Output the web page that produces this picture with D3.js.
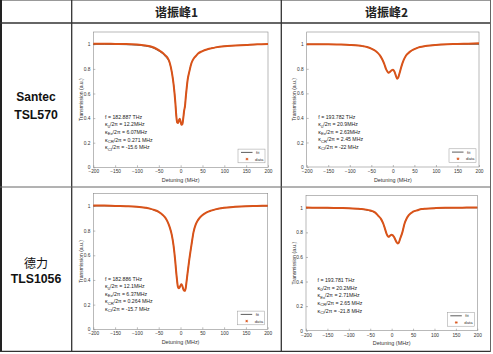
<!DOCTYPE html>
<html lang="en">
<head>
<meta charset="UTF-8"/>
<title>谐振峰 transmission</title>
<script src="https://d3js.org/d3.v7.min.js"></script>
<style>
  body { margin: 0; background: #fff; }
  svg { display: block; font-family: "Liberation Sans", Arial, Helvetica, sans-serif; }
</style>
</head>
<body>
<script>
// table text
var colHeads = ["谐振峰1", "谐振峰2"];
var rowHeads = [["Santec", "TSL570"], ["德力", "TLS1056"]];

// axis ticks
var xTicks = [-200, -150, -100, -50, 0, 50, 100, 150, 200];
var yTicks = [0, 0.2, 0.4, 0.6, 0.8, 1];

// detuning grid (MHz) for the read-off values
var detuning = [-200,-175,-150,-125,-100,-80,-70,-60,-50,-40,-35,-30,-25,-20,-16,-12,-10,-8,-6,-4,-2,0,
                2,4,6,8,10,12,14,16,20,25,30,35,40,50,60,70,80,100,125,150,175,200];

var data1 = [1.005,1.005,1.003,1.002,0.998,0.99,0.984,0.972,0.952,0.928,0.91,0.89,0.85,0.77,0.67,0.52,0.42,0.365,0.36,0.38,0.395,0.37,
             0.345,0.35,0.40,0.46,0.50,0.58,0.65,0.71,0.78,0.85,0.885,0.905,0.925,0.945,0.958,0.967,0.975,0.985,0.99,0.995,1.0,1.003];
var data2 = [1.0,1.0,1.0,0.998,0.995,0.99,0.985,0.978,0.965,0.945,0.93,0.91,0.88,0.84,0.80,0.775,0.768,0.77,0.778,0.785,0.79,0.792,
             0.788,0.775,0.755,0.735,0.72,0.725,0.745,0.77,0.82,0.87,0.905,0.925,0.94,0.96,0.975,0.982,0.988,0.995,1.0,1.002,1.005,1.008];
var data3 = [1.003,1.003,1.0,0.998,0.994,0.985,0.978,0.967,0.952,0.925,0.905,0.875,0.83,0.765,0.68,0.55,0.47,0.40,0.345,0.333,0.34,0.355,
             0.365,0.355,0.33,0.315,0.312,0.335,0.39,0.45,0.56,0.68,0.79,0.85,0.885,0.925,0.948,0.962,0.972,0.985,0.993,0.998,1.0,1.002];
var data4 = [1.003,1.0,1.0,0.998,0.997,0.993,0.99,0.985,0.978,0.965,0.95,0.93,0.91,0.875,0.835,0.79,0.775,0.765,0.765,0.772,0.778,0.78,
             0.778,0.77,0.76,0.745,0.73,0.718,0.71,0.712,0.75,0.80,0.87,0.913,0.94,0.968,0.98,0.99,0.993,0.997,1.0,1.0,1.002,1.003];

// fitted curves
var fit1 = [1.0,1.0,0.999,0.997,0.993,0.985,0.978,0.965,0.945,0.92,0.90,0.88,0.845,0.77,0.67,0.52,0.42,0.365,0.36,0.38,0.395,0.37,
            0.345,0.35,0.40,0.46,0.50,0.58,0.65,0.71,0.78,0.85,0.885,0.905,0.925,0.945,0.958,0.967,0.975,0.985,0.99,0.995,0.998,1.0];
var fit2 = [1.0,1.0,0.999,0.998,0.995,0.99,0.985,0.978,0.965,0.945,0.93,0.91,0.88,0.84,0.80,0.775,0.768,0.77,0.778,0.785,0.79,0.792,
            0.788,0.775,0.755,0.735,0.72,0.725,0.745,0.77,0.82,0.87,0.905,0.925,0.94,0.96,0.975,0.982,0.988,0.995,0.998,1.0,1.0,1.0];
var fit3 = [1.0,1.0,0.999,0.997,0.993,0.984,0.977,0.965,0.95,0.923,0.903,0.873,0.83,0.765,0.68,0.55,0.47,0.40,0.345,0.333,0.34,0.355,
            0.365,0.355,0.33,0.315,0.312,0.335,0.39,0.45,0.56,0.68,0.79,0.85,0.885,0.925,0.948,0.962,0.972,0.985,0.993,0.997,0.999,1.0];
var fit4 = [1.0,1.0,0.999,0.998,0.996,0.992,0.988,0.983,0.975,0.962,0.948,0.928,0.908,0.873,0.833,0.79,0.775,0.765,0.765,0.772,0.778,0.78,
            0.778,0.77,0.76,0.745,0.73,0.718,0.71,0.712,0.75,0.80,0.87,0.913,0.94,0.968,0.98,0.99,0.993,0.997,0.999,1.0,1.0,1.0];

// fit parameters shown in each panel: [f, κ0, κEx, κCR, κCI]
var params1 = ["182.887 THz", "12.2MHz", "6.07MHz", "0.271 MHz", "-15.6 MHz"];
var params2 = ["193.782 THz", "20.9MHz", "2.63MHz", "2.45 MHz", "-22 MHz"];
var params3 = ["182.886 THz", "12.1MHz", "6.37MHz", "0.264 MHz", "-15.7 MHz"];
var params4 = ["193.781 THz", "20.2MHz", "2.71MHz", "2.65 MHz", "-21.8 MHz"];

var W = 493, H = 354;
var orange = "#d95319";

var svg = d3.select("body").append("svg")
    .attr("width", W).attr("height", H);

svg.append("rect").attr("width", W).attr("height", H).attr("fill", "#fff");

// panel boxes (axes area in pixels)
var panels = [
  {l: 93.3, r: 268,   t: 32,    b: 167.3, data: data1, fit: fit1, p: params1},
  {l: 306.7, r: 479,  t: 32,    b: 167,   data: data2, fit: fit2, p: params2},
  {l: 93.3, r: 267.7, t: 193.6, b: 329.3, data: data3, fit: fit3, p: params3},
  {l: 306,  r: 477.3, t: 195.5, b: 330.7, data: data4, fit: fit4, p: params4}
];

panels.forEach(drawPanel);

function drawPanel(P) {
  var x = d3.scaleLinear().domain([-200, 200]).range([P.l, P.r]);
  var y = d3.scaleLinear().domain([0, 1.1]).range([P.b, P.t]);
  var g = svg.append("g");

  // axes with inward ticks
  var xAxis = d3.axisBottom(x).tickValues(xTicks).tickSizeInner(-2).tickSizeOuter(0).tickPadding(2.5);
  var yAxis = d3.axisLeft(y).tickValues(yTicks).tickSizeInner(-2).tickSizeOuter(0).tickPadding(3)
      .tickFormat(function(d){ return d === 1 || d === 0 ? d : d.toFixed(1); });

  var gx = g.append("g").attr("transform", "translate(0," + P.b + ")").call(xAxis);
  var gy = g.append("g").attr("transform", "translate(" + P.l + ",0)").call(yAxis);
  [gx, gy].forEach(function(a){
    a.selectAll("path").remove();
    a.selectAll("line").attr("stroke", "#777").attr("stroke-width", 0.5);
    a.selectAll("text").attr("font-size", 4.8).attr("fill", "#333").attr("font-family", null);
  });

  // box
  g.append("rect")
    .attr("x", P.l).attr("y", P.t)
    .attr("width", P.r - P.l).attr("height", P.b - P.t)
    .attr("fill", "none").attr("stroke", "#8a8a8a").attr("stroke-width", 0.6);

  // axis labels
  g.append("text")
    .attr("x", (P.l + P.r) / 2).attr("y", P.b + 14.5)
    .attr("text-anchor", "middle").attr("font-size", 5.4).attr("fill", "#333")
    .text("Detuning (MHz)");
  g.append("text")
    .attr("transform", "translate(" + (P.l - 10.5) + "," + ((P.t + P.b) / 2) + ") rotate(-90)")
    .attr("text-anchor", "middle").attr("font-size", 5.0).attr("fill", "#333")
    .text("Transmission (a.u.)");

  var line = d3.line()
    .x(function(d, i){ return x(detuning[i]); })
    .y(function(d){ return y(d); })
    .curve(d3.curveMonotoneX);

  g.append("path").datum(P.fit).attr("d", line)
    .attr("fill", "none").attr("stroke", "#333").attr("stroke-width", 0.8);
  g.append("path").datum(P.data).attr("d", line)
    .attr("fill", "none").attr("stroke", orange).attr("stroke-width", 2);

  // parameter text
  var tx = x(-173), ty0 = y(0.395);
  var lh = 7.6;
  var subs = ["0", "Ex", "CR", "CI"];
  var t = g.append("g").attr("font-size", 5.2).attr("fill", "#222");
  t.append("text").attr("x", tx).attr("y", ty0).text("f = " + P.p[0]);
  subs.forEach(function(s, i){
    var tt = t.append("text").attr("x", tx).attr("y", ty0 + lh * (i + 1));
    tt.append("tspan").text("κ");
    tt.append("tspan").attr("dy", 1.4).attr("font-size", 4.2).text(s);
    tt.append("tspan").attr("dy", -1.4).text("/2π = " + P.p[i + 1]);
  });

  // legend
  var lw = 27, lhgt = 13.7;
  var lx = P.r - 3 - lw, ly = P.b - 4.5 - lhgt;
  var leg = g.append("g");
  leg.append("rect").attr("x", lx).attr("y", ly).attr("width", lw).attr("height", lhgt)
    .attr("fill", "#fff").attr("stroke", "#999").attr("stroke-width", 0.5);
  leg.append("line").attr("x1", lx + 3).attr("x2", lx + 14.5)
    .attr("y1", ly + 3.3).attr("y2", ly + 3.3).attr("stroke", "#333").attr("stroke-width", 0.8);
  leg.append("text").attr("x", lx + 18).attr("y", ly + 4.9).attr("font-size", 4.3).attr("fill", "#333").text("fit");
  var mx = lx + 9, my = ly + 10;
  [0, 60, 120].forEach(function(a){
    var r = a * Math.PI / 180;
    leg.append("line")
      .attr("x1", mx - 1.4 * Math.cos(r)).attr("y1", my - 1.4 * Math.sin(r))
      .attr("x2", mx + 1.4 * Math.cos(r)).attr("y2", my + 1.4 * Math.sin(r))
      .attr("stroke", orange).attr("stroke-width", 0.8);
  });
  leg.append("text").attr("x", lx + 17).attr("y", ly + 11.4).attr("font-size", 4.3).attr("fill", "#333").text("data");
}

// table grid
var grid = svg.append("g").attr("fill", "none");
grid.append("line").attr("x1", 0).attr("x2", 491).attr("y1", 0.5).attr("y2", 0.5).attr("stroke", "#999").attr("stroke-width", 1);
grid.append("line").attr("x1", 1).attr("x2", 1).attr("y1", 0).attr("y2", 352).attr("stroke", "#222").attr("stroke-width", 2);
grid.append("line").attr("x1", 0).attr("x2", 491).attr("y1", 23).attr("y2", 23).attr("stroke", "#333").attr("stroke-width", 1.4);
grid.append("line").attr("x1", 71.7).attr("x2", 71.7).attr("y1", 0).attr("y2", 352).attr("stroke", "#333").attr("stroke-width", 1.3);
grid.append("line").attr("x1", 281.3).attr("x2", 281.3).attr("y1", 0).attr("y2", 352).attr("stroke", "#333").attr("stroke-width", 1.3);
grid.append("line").attr("x1", 0).attr("x2", 491).attr("y1", 187).attr("y2", 187).attr("stroke", "#666").attr("stroke-width", 1);
grid.append("line").attr("x1", 0).attr("x2", 491).attr("y1", 351.3).attr("y2", 351.3).attr("stroke", "#333").attr("stroke-width", 1.3);
grid.append("line").attr("x1", 490.5).attr("x2", 490.5).attr("y1", 0).attr("y2", 352).attr("stroke", "#666").attr("stroke-width", 1);

// column headers
svg.selectAll(".colHead").data(colHeads).enter().append("text")
  .attr("class", "colHead")
  .attr("x", function(d, i){ return i === 0 ? 176.5 : 386.5; })
  .attr("y", 17)
  .attr("text-anchor", "middle").attr("font-size", 12).attr("font-weight", "bold").attr("fill", "#222")
  .attr("font-family", "'Noto Sans CJK SC', 'Liberation Sans', sans-serif")
  .text(function(d){ return d; });

// row headers
var rowY = [[101, 118.5], [268, 283]];
rowHeads.forEach(function(r, i){
  svg.append("text").attr("x", 36).attr("y", rowY[i][0])
    .attr("text-anchor", "middle").attr("font-size", 12)
    .attr("font-weight", i === 0 ? "bold" : "normal").attr("fill", "#111")
    .attr("font-family", i === 0 ? "'Liberation Sans', Arial, sans-serif" : "'Noto Sans CJK SC', sans-serif")
    .text(r[0]);
  svg.append("text").attr("x", 36).attr("y", rowY[i][1])
    .attr("text-anchor", "middle").attr("font-size", 12.3).attr("font-weight", "bold").attr("fill", "#111")
    .text(r[1]);
});
</script>
</body>
</html>
